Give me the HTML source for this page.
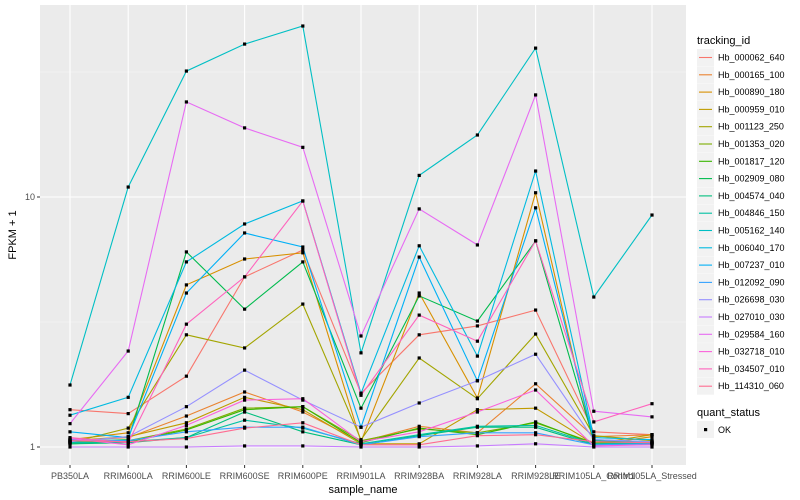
<!DOCTYPE html>
<html><head><meta charset="utf-8">
<style>
body{margin:0;background:#fff;}
svg{display:block;font-family:"Liberation Sans",sans-serif;}
</style></head>
<body>
<svg id="chart" width="800" height="500">
<rect x="0" y="0" width="800" height="500" fill="#fff"/>
<rect x="40" y="5" width="646" height="460" fill="#ebebeb"/>
<g id="grid"></g>
<g id="series"></g>
<g id="axes"></g>
<g id="legend"></g>
</svg>
<script>
const categories = ["PB350LA","RRIM600LA","RRIM600LE","RRIM600SE","RRIM600PE","RRIM901LA","RRIM928BA","RRIM928LA","RRIM928LE","RRIM105LA_Control","RRIM105LA_Stressed"];
const seriesNames = ["Hb_000062_640","Hb_000165_100","Hb_000890_180","Hb_000959_010","Hb_001123_250","Hb_001353_020","Hb_001817_120","Hb_002909_080","Hb_004574_040","Hb_004846_150","Hb_005162_140","Hb_006040_170","Hb_007237_010","Hb_012092_090","Hb_026698_030","Hb_027010_030","Hb_029584_160","Hb_032718_010","Hb_034507_010","Hb_114310_060"];
const s0 = [1.41,1.36,1.92,4.79,6.14,1.64,2.81,3.05,3.53,1.15,1.12];
const s1 = [1.06,1.09,1.33,1.66,1.38,1.05,1.21,1.14,1.79,1.10,1.12];
const s2 = [1.07,1.14,4.45,5.65,5.98,1.05,4.13,1.57,10.4,1.02,1.10];
const s3 = [1.06,1.10,1.25,1.58,1.41,1.03,1.03,1.41,1.43,1.03,1.12];
const s4 = [1.04,1.19,2.81,2.49,3.73,1.07,2.27,1.56,2.83,1.11,1.06];
const s5 = [1.04,1.06,1.18,1.43,1.45,1.06,1.18,1.14,1.25,1.04,1.04];
const s6 = [1.03,1.05,1.17,1.41,1.45,1.04,1.19,1.12,1.26,1.03,1.03];
const s7 = [1.05,1.07,6.03,3.56,5.50,1.43,4.02,3.19,6.67,1.06,1.04];
const s8 = [1.03,1.04,1.09,1.38,1.15,1.02,1.11,1.20,1.20,1.02,1.03];
const s9 = [1.04,1.05,1.09,1.28,1.19,1.03,1.12,1.21,1.22,1.03,1.04];
const s10 = [1.77,10.96,31.9,40.9,48.3,2.38,12.2,17.7,39.4,3.98,8.47];
const s11 = [1.34,1.58,5.50,7.8,9.65,1.64,6.38,2.31,12.7,1.09,1.07];
const s12 = [1.15,1.09,4.13,7.18,6.31,1.20,5.75,1.84,9.05,1.07,1.05];
const s13 = [1.07,1.06,1.15,1.20,1.20,1.02,1.10,1.14,1.14,1.02,1.03];
const s14 = [1.05,1.10,1.45,2.03,1.54,1.20,1.50,1.84,2.35,1.07,1.05];
const s15 = [1.0,1.0,1.0,1.01,1.01,1.0,1.0,1.01,1.03,1.0,1.0];
const s16 = [1.24,2.42,24,18.9,15.8,2.78,8.96,6.43,25.6,1.39,1.32];
const s17 = [1.08,1.02,1.22,1.54,1.56,1.05,1.15,1.38,1.69,1.01,1.02];
const s18 = [1.09,1.04,3.10,4.79,9.63,1.61,3.37,2.65,6.68,1.26,1.49];
const s19 = [1.06,1.05,1.08,1.19,1.25,1.02,1.02,1.11,1.12,1.05,1.04];
const seriesValues = [s0,s1,s2,s3,s4,s5,s6,s7,s8,s9,s10,s11,s12,s13,s14,s15,s16,s17,s18,s19];
const colors = ["#F8766D","#EA8331","#D89000","#C09B00","#A3A500","#7CAE00","#39B600","#00BB4E","#00BF7D","#00C1A3","#00BFC4","#00BAE0","#00B0F6","#35A2FF","#9590FF","#C77CFF","#E76BF3","#FA62DB","#FF62BC","#FF6C91"];
const yTickValues = [1,10];
const yTickLabels = ["1","10"];
const yMinorValues = [Math.sqrt(10), Math.sqrt(1000)];

const NS="http://www.w3.org/2000/svg";
function xPos(i){return 70 + i*58.2;}
function yPos(v){return 447 - 250*Math.log10(v);}
function mk(tag, attrs, parent){const e=document.createElementNS(NS,tag);for(const k in attrs)e.setAttribute(k,attrs[k]);parent.appendChild(e);return e;}

const grid=document.getElementById('grid');
yMinorValues.forEach(v=>{const l=mk('line',{x1:40,x2:686,y1:yPos(v),y2:yPos(v),stroke:'#f5f5f5','stroke-width':0.6},grid);

});
yTickValues.forEach(v=>{const l=mk('line',{x1:40,x2:686,y1:yPos(v),y2:yPos(v),stroke:'#fff','stroke-width':1.1},grid);

});
categories.forEach((c,i)=>{const l=mk('line',{x1:xPos(i),x2:xPos(i),y1:5,y2:465,stroke:'#fff','stroke-width':1.1},grid);

});

const sg=document.getElementById('series');
seriesValues.forEach((vals,si)=>{
  const pts=vals.map((v,i)=>xPos(i).toFixed(1)+','+yPos(v).toFixed(1)).join(' ');
  const pl=mk('polyline',{points:pts,fill:'none',stroke:colors[si],'stroke-width':1.1},sg);
  
  
});
seriesValues.forEach((vals,si)=>{
  vals.forEach((v,i)=>{
    const r=mk('rect',{x:xPos(i)-1.6,y:yPos(v)-1.6,width:3.2,height:3.2,fill:'#000'},sg);
    
    
  });
});

const ax=document.getElementById('axes');
yTickValues.forEach((v,i)=>{
  const t=mk('line',{x1:37,x2:40,y1:yPos(v),y2:yPos(v),stroke:'#333','stroke-width':1},ax);
  
  
  const tx=mk('text',{x:35,y:yPos(v)+3,'text-anchor':'end','font-size':9,fill:'#4d4d4d'},ax);
  tx.textContent=yTickLabels[i];
  
  
});
categories.forEach((c,i)=>{
  const t=mk('line',{x1:xPos(i),x2:xPos(i),y1:465,y2:468,stroke:'#333','stroke-width':1},ax);
  
  
  const tx=mk('text',{x:xPos(i),y:479,'text-anchor':'middle','font-size':9,fill:'#4d4d4d'},ax);
  tx.textContent=c;
  
  
});
let xt=mk('text',{x:363,y:493,'text-anchor':'middle','font-size':11,fill:'#000'},ax);
xt.textContent='sample_name';


let yt=mk('text',{x:16,y:235,'text-anchor':'middle','font-size':11,fill:'#000',transform:'rotate(-90 16 235)'},ax);
yt.textContent='FPKM + 1';



const lg=document.getElementById('legend');
let lt=mk('text',{x:697,y:44,'font-size':11,fill:'#000'},lg);
lt.textContent='tracking_id';


seriesNames.forEach((n,i)=>{
  const cy=57.5+i*17.3;
  const g=mk('g',{},lg);
  
  
  mk('rect',{x:697,y:cy-8.5,width:17,height:17,fill:'#f2f2f2'},g);
  mk('line',{x1:699,x2:712,y1:cy,y2:cy,stroke:colors[i],'stroke-width':1.1},g);
  const tx=mk('text',{x:718,y:cy+3,'font-size':9,fill:'#000'},g);
  tx.textContent=n;
});
let qt=mk('text',{x:697,y:416,'font-size':11,fill:'#000'},lg);
qt.textContent='quant_status';


const qg=mk('g',{},lg);


mk('rect',{x:697,y:421,width:17,height:17,fill:'#f2f2f2'},qg);
mk('rect',{x:704,y:428,width:3.2,height:3.2,fill:'#000'},qg);
const okt=mk('text',{x:718,y:433,'font-size':9,fill:'#000'},qg);
okt.textContent='OK';
</script>
</body></html>
